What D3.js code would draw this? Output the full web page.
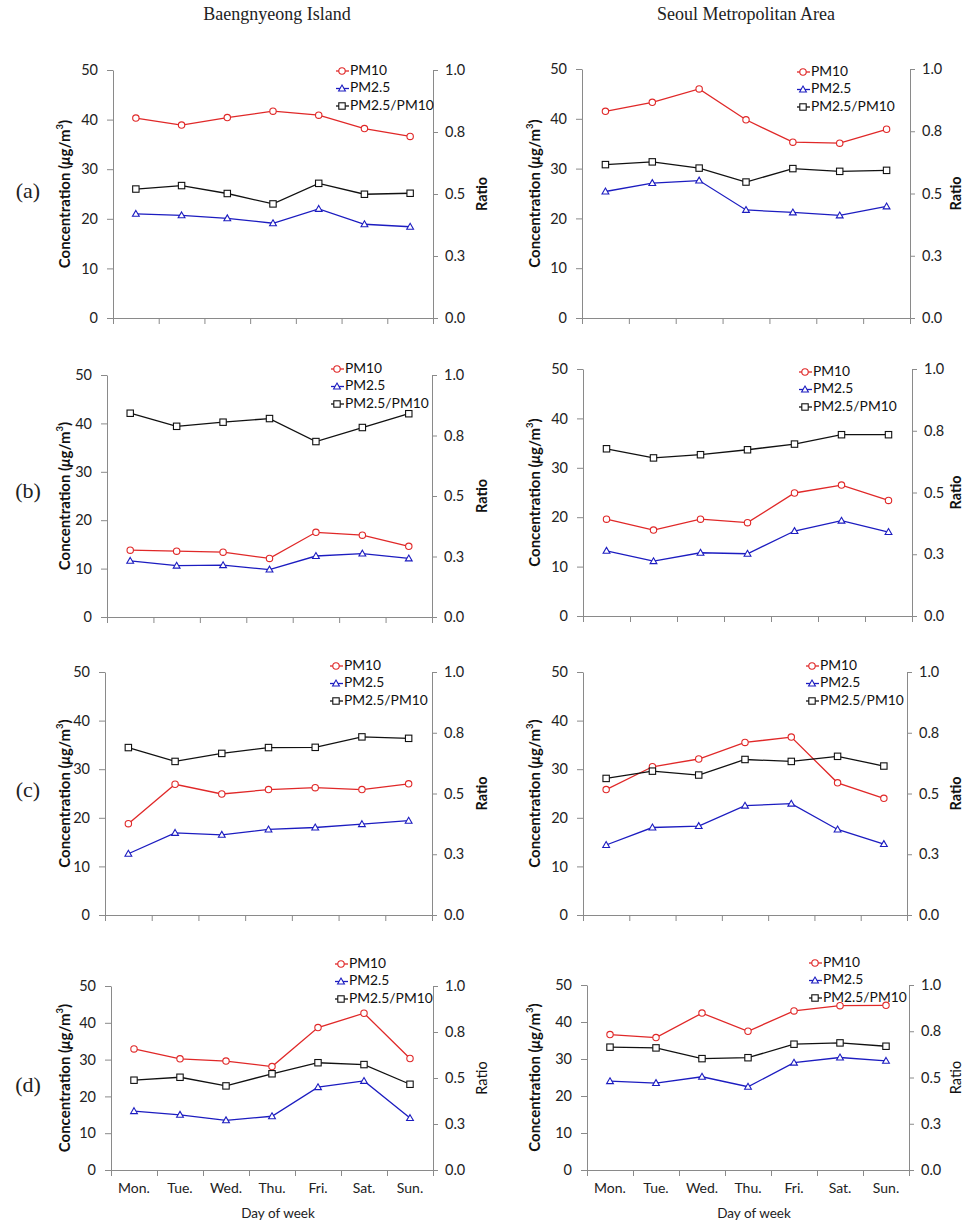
<!DOCTYPE html>
<html>
<head>
<meta charset="utf-8">
<script src="https://cdn.jsdelivr.net/npm/d3@7"></script>
<style>
  body { margin: 0; background: #fff; }
  svg { display: block; }
</style>
</head>
<body>
<div class="chart"></div>
<script>
// categories and tick labels
const days = ["Mon.", "Tue.", "Wed.", "Thu.", "Fri.", "Sat.", "Sun."];
const concTicks = [0, 10, 20, 30, 40, 50];
const ratioTicks = [0, 0.25, 0.5, 0.75, 1];
const ratioTickLabels = ["0.0", "0.3", "0.5", "0.8", "1.0"];
const seriesNames = ["PM10", "PM2.5", "PM2.5/PM10"];
const columnTitles = ["Baengnyeong Island", "Seoul Metropolitan Area"];
const rowLabels = ["(a)", "(b)", "(c)", "(d)"];

// Baengnyeong Island
const bi_a_pm10  = [40.3, 38.9, 40.4, 41.7, 40.9, 38.2, 36.6];
const bi_a_pm25  = [21.0, 20.7, 20.1, 19.1, 22.0, 18.9, 18.4];
const bi_a_ratio = [0.520, 0.534, 0.502, 0.460, 0.543, 0.499, 0.503];
const bi_b_pm10  = [13.8, 13.6, 13.4, 12.1, 17.5, 16.9, 14.6];
const bi_b_pm25  = [11.6, 10.6, 10.7, 9.8, 12.6, 13.1, 12.1];
const bi_b_ratio = [0.842, 0.788, 0.805, 0.820, 0.725, 0.783, 0.840];
const bi_c_pm10  = [18.8, 26.9, 24.9, 25.8, 26.2, 25.8, 27.0];
const bi_c_pm25  = [12.6, 16.9, 16.5, 17.6, 18.0, 18.7, 19.4];
const bi_c_ratio = [0.689, 0.632, 0.665, 0.689, 0.690, 0.733, 0.727];
const bi_d_pm10  = [32.9, 30.2, 29.6, 28.1, 38.7, 42.6, 30.3];
const bi_d_pm25  = [16.0, 15.0, 13.5, 14.6, 22.5, 24.2, 14.1];
const bi_d_ratio = [0.488, 0.504, 0.457, 0.523, 0.583, 0.573, 0.466];

// Seoul Metropolitan Area
const sma_a_pm10  = [41.5, 43.3, 46.0, 39.8, 35.3, 35.1, 37.9];
const sma_a_pm25  = [25.4, 27.1, 27.6, 21.7, 21.2, 20.6, 22.4];
const sma_a_ratio = [0.616, 0.627, 0.602, 0.546, 0.600, 0.589, 0.593];
const sma_b_pm10  = [19.6, 17.4, 19.6, 18.9, 24.9, 26.5, 23.4];
const sma_b_pm25  = [13.2, 11.1, 12.8, 12.6, 17.2, 19.3, 17.0];
const sma_b_ratio = [0.677, 0.640, 0.653, 0.673, 0.696, 0.734, 0.734];
const sma_c_pm10  = [25.8, 30.5, 32.1, 35.5, 36.6, 27.2, 24.0];
const sma_c_pm25  = [14.4, 18.0, 18.3, 22.5, 22.9, 17.6, 14.6];
const sma_c_ratio = [0.562, 0.592, 0.576, 0.640, 0.632, 0.653, 0.613];
const sma_d_pm10  = [36.6, 35.8, 42.4, 37.5, 43.0, 44.4, 44.5];
const sma_d_pm25  = [24.0, 23.5, 25.2, 22.5, 29.0, 30.4, 29.5];
const sma_d_ratio = [0.664, 0.660, 0.602, 0.607, 0.680, 0.687, 0.669];

const W = 972, H = 1228;
const font = "Lato, 'Liberation Sans', sans-serif";
const colors = ["#e02828", "#1c1cc0", "#111111"];

// panel frames: left axis x, right axis x, top (50), bottom (0), legend marker x, legend first row y
const panels = [
  { d: [bi_a_pm10, bi_a_pm25, bi_a_ratio], x0: 113, x1: 433, top: 70, bot: 318, lx: 342, ly: 71, col: 0 },
  { d: [sma_a_pm10, sma_a_pm25, sma_a_ratio], x0: 582, x1: 910, top: 69, bot: 318, lx: 803, ly: 72, col: 1 },
  { d: [bi_b_pm10, bi_b_pm25, bi_b_ratio], x0: 107, x1: 432, top: 375, bot: 617, lx: 337, ly: 369, col: 0 },
  { d: [sma_b_pm10, sma_b_pm25, sma_b_ratio], x0: 583, x1: 912, top: 369, bot: 616, lx: 805, ly: 372, col: 1 },
  { d: [bi_c_pm10, bi_c_pm25, bi_c_ratio], x0: 105, x1: 432, top: 672, bot: 915, lx: 336, ly: 666, col: 0 },
  { d: [sma_c_pm10, sma_c_pm25, sma_c_ratio], x0: 583, x1: 907, top: 672, bot: 915, lx: 812, ly: 666, col: 1 },
  { d: [bi_d_pm10, bi_d_pm25, bi_d_ratio], x0: 111, x1: 433, top: 986, bot: 1170, lx: 341, ly: 964, col: 0, last: true },
  { d: [sma_d_pm10, sma_d_pm25, sma_d_ratio], x0: 587, x1: 909, top: 985, bot: 1170, lx: 815, ly: 963, col: 1, last: true }
];
const rowLabelY = [193, 493, 792, 1087];

const svg = d3.select(".chart").append("svg")
  .attr("width", W).attr("height", H)
  .style("font-family", font);

// column titles
svg.selectAll(".coltitle").data(columnTitles).join("text")
  .attr("x", (d, i) => i === 0 ? 277 : 746)
  .attr("y", 20)
  .attr("text-anchor", "middle")
  .style("font-family", "'Liberation Serif', 'DejaVu Serif', serif")
  .style("font-size", "18px")
  .attr("fill", "#222")
  .text(d => d);

// row labels
svg.selectAll(".rowlabel").data(rowLabels).join("text")
  .attr("x", 28).attr("y", (d, i) => rowLabelY[i])
  .attr("text-anchor", "middle").attr("dominant-baseline", "middle")
  .style("font-family", "'Liberation Serif', 'DejaVu Serif', serif")
  .style("font-size", "22px")
  .attr("fill", "#222")
  .text(d => d);

function drawMarker(g, type, x, y, color) {
  if (type === 0) {
    g.append("circle").attr("cx", x).attr("cy", y).attr("r", 3.2)
      .attr("fill", "#fff").attr("stroke", color).attr("stroke-width", 1.1);
  } else if (type === 1) {
    g.append("path").attr("d", d3.symbol(d3.symbolTriangle).size(20)())
      .attr("transform", `translate(${x},${y + 0.5})`)
      .attr("fill", "#fff").attr("stroke", color).attr("stroke-width", 1.1);
  } else {
    g.append("rect").attr("x", x - 3.2).attr("y", y - 3.2).attr("width", 6.4).attr("height", 6.4)
      .attr("fill", "#fff").attr("stroke", color).attr("stroke-width", 1.1);
  }
}

panels.forEach(p => {
  const g = svg.append("g");
  const x = d3.scaleBand().domain(days).range([p.x0, p.x1]).padding(0);
  const xEdges = d3.scaleLinear().domain([0, days.length]).range([p.x0, p.x1]);
  const yConc = d3.scaleLinear().domain([0, 50]).range([p.bot, p.top]);
  const yRatio = d3.scaleLinear().domain([0, 1]).range([p.bot, p.top]);

  // left axis
  const gl = g.append("g").attr("transform", `translate(${p.x0},0)`)
    .call(d3.axisLeft(yConc).tickValues(concTicks).tickSize(6).tickPadding(9).tickSizeOuter(0));
  // right axis
  const gr = g.append("g").attr("transform", `translate(${p.x1},0)`)
    .call(d3.axisRight(yRatio).tickValues(ratioTicks).tickSize(5).tickPadding(7).tickSizeOuter(0)
      .tickFormat((d, i) => ratioTickLabels[i]));
  // bottom axis: ticks at category edges
  const gb = g.append("g").attr("transform", `translate(0,${p.bot})`)
    .call(d3.axisBottom(xEdges).ticks(days.length).tickSize(6).tickSizeOuter(0).tickFormat(""));
  if (p.last) {
    g.append("g").attr("transform", `translate(0,${p.bot})`)
      .call(d3.axisBottom(x).tickSize(0).tickPadding(13))
      .call(a => a.select(".domain").remove())
      .selectAll("text").style("font-size", "14px").attr("fill", "#222").style("font-family", font);
    g.append("text")
      .attr("x", (p.x0 + p.x1) / 2 + 6).attr("y", p.bot + 48)
      .attr("text-anchor", "middle").style("font-size", "13.5px").attr("fill", "#222")
      .text("Day of week");
  }
  [gl, gr, gb].forEach(a => {
    a.selectAll(".domain, line").attr("stroke", "#8a8a8a");
    a.selectAll("text").style("font-size", "14.5px").style("font-family", font).attr("fill", "#222");
  });

  // axis titles
  const cy = (p.top + p.bot) / 2;
  const titleX = p.col === 0 ? 66 : 536;
  g.append("text")
    .attr("transform", `translate(${titleX},${cy}) rotate(-90)`)
    .attr("text-anchor", "middle").attr("dominant-baseline", "middle")
    .style("font-size", "15px").style("font-weight", "bold").attr("fill", "#111")
    .text("Concentration (")
    .call(t => {
      t.append("tspan").style("font-style", "italic").text("\u03bc");
      t.append("tspan").text("g/m");
      t.append("tspan").attr("baseline-shift", "super").style("font-size", "9.5px").text("3");
      t.append("tspan").text(")");
    });
  const ratioX = p.col === 0 ? 483 : 957;
  g.append("text")
    .attr("transform", `translate(${ratioX},${cy}) rotate(-90)`)
    .attr("text-anchor", "middle").attr("dominant-baseline", "middle")
    .style("font-size", "14.5px").style("font-weight", p.last ? "normal" : "bold").attr("fill", "#111")
    .text("Ratio");

  // series
  p.d.forEach((vals, si) => {
    const yS = si === 2 ? yRatio : yConc;
    const line = d3.line().x((v, i) => x(days[i]) + x.bandwidth() / 2).y(v => yS(v));
    g.append("path").datum(vals).attr("d", line)
      .attr("fill", "none").attr("stroke", colors[si]).attr("stroke-width", 1.3);
    vals.forEach((v, i) => drawMarker(g, si, x(days[i]) + x.bandwidth() / 2, yS(v), colors[si]));
  });

  // legend
  seriesNames.forEach((name, si) => {
    const yy = p.ly + si * 17.5;
    g.append("line").attr("x1", p.lx - 6).attr("x2", p.lx + 7).attr("y1", yy).attr("y2", yy)
      .attr("stroke", colors[si]).attr("stroke-width", 1.3);
    drawMarker(g, si, p.lx, yy, colors[si]);
    g.append("text").attr("x", p.lx + 8).attr("y", yy).attr("dominant-baseline", "middle")
      .style("font-size", "13.8px").attr("fill", "#111").text(name);
  });
});
</script>
</body>
</html>
